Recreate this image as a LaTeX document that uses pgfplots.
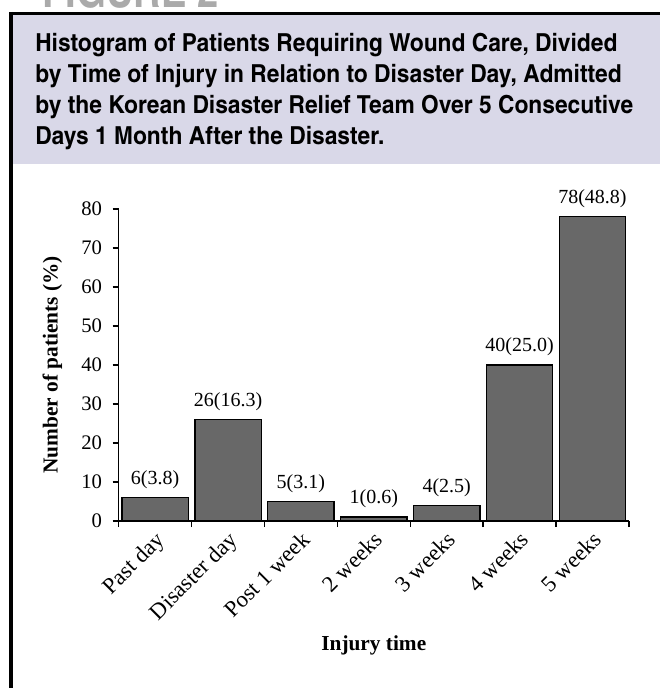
\documentclass[border=0pt]{standalone}
\usepackage{fontspec}
\setmainfont{Liberation Serif}
\newfontfamily\figfont{texgyreheroscn}[Extension=.otf, UprightFont=*-regular, BoldFont=*-bold]
\newfontfamily\headfont{texgyreheroscn}[Extension=.otf, UprightFont=*-regular, BoldFont=*-bold, FakeStretch=1.12]
\usepackage{pgfplots}
\pgfplotsset{compat=1.18}
\definecolor{lav}{RGB}{217,216,232}
\definecolor{barg}{RGB}{104,104,104}
\definecolor{figg}{RGB}{170,170,170}
\begin{document}
\begin{tikzpicture}
\useasboundingbox (0,0) rectangle (495pt,-516pt);
\clip (0,0) rectangle (495pt,-516pt);
\fill[lav] (9.75pt,-11.25pt) rectangle (495pt,-123pt);
\draw[line width=2.25pt] (6.75pt,-10.125pt) -- (495pt,-10.125pt);
\draw[line width=3pt] (8.25pt,-9pt) -- (8.25pt,-516pt);
\node[anchor=base west, inner sep=0pt, text=figg, font=\figfont\bfseries\fontsize{35}{35}\selectfont] at (31.5pt,-6pt) {FIGURE 2};
\begin{scope}[every node/.style={anchor=base west, inner sep=0pt, font=\headfont\bfseries\fontsize{18.6}{23}\selectfont}]
\node at (26.25pt,-39pt) {Histogram of Patients Requiring Wound Care, Divided};
\node at (26.25pt,-62.25pt) {by Time of Injury in Relation to Disaster Day, Admitted};
\node at (26.25pt,-85.5pt) {by the Korean Disaster Relief Team Over 5 Consecutive};
\node at (26.25pt,-108.75pt) {Days 1 Month After the Disaster.};
\end{scope}
\begin{axis}[
  at={(89pt,-390.75pt)}, anchor=south west,
  scale only axis, width=382.7pt, height=234pt,
  xmin=0, xmax=7, ymin=0, ymax=80,
  axis lines=left, axis line style={-, line width=1.1pt},
  ytick={0,10,...,80},
  xtick={0,1,...,7},
  x tick label as interval,
  xticklabels={Past day, Disaster day, Post 1 week, 2 weeks, 3 weeks, 4 weeks, 5 weeks},
  tick align=outside, major tick length=4.5pt,
  tick style={black, line width=1.1pt},
  /pgf/number format/assume math mode=true,
  yticklabel style={font=\fontsize{15.5}{17}\selectfont, xshift=-4.5pt},
  xticklabel style={font=\fontsize{17}{19}\selectfont, rotate=45, anchor=north east, inner sep=1pt, xshift=-1pt},
  xlabel={Injury time},
  ylabel={Number of patients (\%)},
  label style={font=\bfseries\fontsize{16}{18}\selectfont},
  xlabel style={at={(axis description cs:0.5,-0.415)}, anchor=base},
  ylabel style={at={(axis description cs:-0.13,0.5)}, anchor=center},
  ybar, bar width=0.91,
  nodes near coords={\pgfplotspointmeta},
  point meta=explicit symbolic,
  every node near coord/.append style={anchor=base, inner sep=0pt, yshift=10pt, font=\fontsize{15}{17}\selectfont, black},
]
\addplot[fill=barg, draw=black, line width=1pt] coordinates {
  (0.5,6) [6(3.8)]
  (1.5,26) [26(16.3)]
  (2.5,5) [5(3.1)]
  (3.5,1) [1(0.6)]
  (4.5,4) [4(2.5)]
  (5.5,40) [40(25.0)]
  (6.5,78) [78(48.8)]
};
\end{axis}
\end{tikzpicture}
\end{document}
